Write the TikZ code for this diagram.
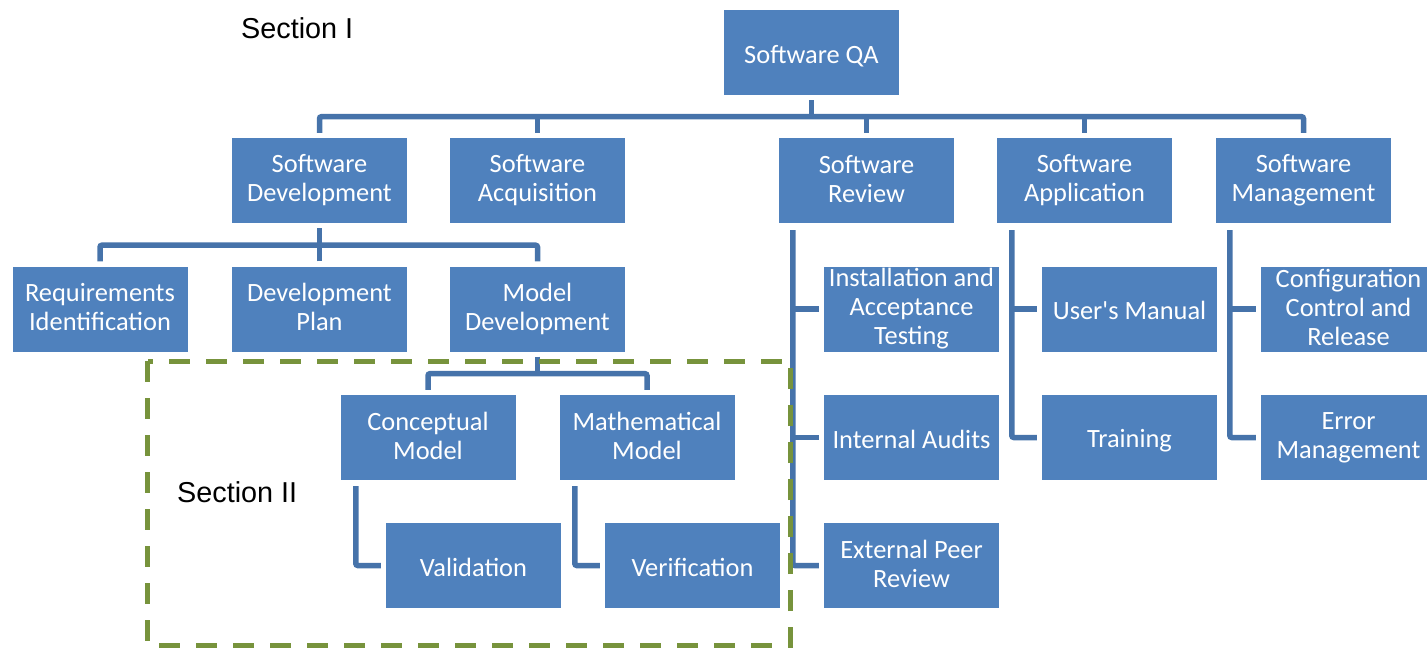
\documentclass[tikz,border=0pt]{standalone}
\usepackage{fontspec}
\setmainfont{Carlito}
\newfontfamily\arialfont{Liberation Sans}
\usetikzlibrary{calc}

\definecolor{qablue}{HTML}{4F81BD}
\definecolor{qaline}{HTML}{4673AA}
\definecolor{qagreen}{HTML}{77933C}

\newcommand\qatop{\rule{0pt}{25.3pt}}
\newcommand\qabot{\rule[-3.7pt]{0pt}{3.7pt}}

\tikzset{
  qabox/.style={fill=qablue,text=white,minimum width=175pt,minimum height=85pt,
    inner sep=0pt,align=center,font=\fontsize{26.4}{29}\selectfont,
    execute at begin node=\qatop,execute at end node=\qabot},
  qalink/.style={qaline,line width=5.5pt,rounded corners=2pt},
  secname/.style={anchor=west,inner sep=0pt,font=\arialfont\fontsize{28.8}{34}\selectfont}
}

\begin{document}
\begin{tikzpicture}[x=1pt,y=-1pt]
    \useasboundingbox (0,0) rectangle (1427,650) ;

    % boxes
    \node [qabox] (qa)    at (811.5,52.5)  {Software QA} ;
    \node [qabox] (sdev)  at (319.5,180.5) {Software\\Development} ;
    \node [qabox] (sacq)  at (537.5,180.5) {Software\\Acquisition} ;
    \node [qabox] (srev)  at (866.5,180.5) {Software\\Review} ;
    \node [qabox] (sapp)  at (1084.5,180.5) {Software\\Application} ;
    \node [qabox] (smgt)  at (1303.5,180.5) {Software\\Management} ;

    \node [qabox] (req)   at (100,309)   {Requirements\\Identification} ;
    \node [qabox] (dplan) at (319.5,309) {Development\\Plan} ;
    \node [qabox] (mdev)  at (537.5,309) {Model\\Development} ;
    \node [qabox] (cmod)  at (428,437.5) {Conceptual\\Model} ;
    \node [qabox] (mmod)  at (647,437.5) {Mathematical\\Model} ;
    \node [qabox] (valid) at (473.5,565.5) {Validation} ;
    \node [qabox] (verif) at (692.5,565.5) {Verification} ;

    \node [qabox] (inst)  at (911.5,309)   {Installation and\\Acceptance\\Testing} ;
    \node [qabox] (audit) at (911.5,437.5) {Internal Audits} ;
    \node [qabox] (peer)  at (911.5,565.5) {External Peer\\Review} ;
    \node [qabox] (umanu) at (1129.5,309)   {User\textquotesingle s Manual} ;
    \node [qabox] (train) at (1129.5,437.5) {Training} ;
    \node [qabox] (conf)  at (1348.5,309)   {Configuration\\Control and\\Release} ;
    \node [qabox] (error) at (1348.5,437.5) {Error\\Management} ;

    % tree lines
    \draw [qalink,shorten <=5pt] (qa.south) -- ++(0,21.5) coordinate (qabus) ;
    \draw [qalink,shorten <=5pt,shorten >=5pt] (sdev.north) |- (qabus) -| (smgt.north) ;
    \foreach \b in {sacq,srev,sapp}
      \draw [qalink,shorten <=5pt] (\b.north) -- (\b.north |- qabus) ;

    \draw [qalink,shorten <=5pt] (sdev.south) -- ++(0,22) coordinate (sdbus) ;
    \draw [qalink,shorten <=5pt,shorten >=5pt] (req.north) |- (sdbus) -| (mdev.north) ;
    \draw [qalink,shorten <=5pt] (dplan.north) -- (dplan.north |- sdbus) ;

    \draw [qalink,shorten <=5pt] (mdev.south) -- ++(0,22) coordinate (mdbus) ;
    \draw [qalink,shorten <=5pt,shorten >=5pt] (cmod.north) |- (mdbus) -| (mmod.north) ;

    \draw [qalink,shorten >=5pt] ($(cmod.south west)+(15.5,6)$) |- (valid.west) ;
    \draw [qalink,shorten >=5pt] ($(mmod.south west)+(15.5,6)$) |- (verif.west) ;

    % side lists
    \coordinate (srcol) at ($(srev.south west)+(14,7)$) ;
    \draw [qalink,shorten >=5pt] (srcol) |- (peer.west) ;
    \foreach \b in {inst,audit}
      \draw [qalink,shorten >=5pt] (srcol |- \b.west) -- (\b.west) ;

    \coordinate (sacol) at ($(sapp.south west)+(15,7)$) ;
    \draw [qalink,shorten >=5pt] (sacol) |- (train.west) ;
    \draw [qalink,shorten >=5pt] (sacol |- umanu.west) -- (umanu.west) ;

    \coordinate (smcol) at ($(smgt.south west)+(14,7)$) ;
    \draw [qalink,shorten >=5pt] (smcol) |- (error.west) ;
    \draw [qalink,shorten >=5pt] (smcol |- conf.west) -- (conf.west) ;

    % sections
    \draw [qagreen,line width=5pt,dash pattern=on 21pt off 16pt] (147.5,361) rectangle (790.5,645.5) ;
    \node [secname] (sec1) at (241,28) {Section I} ;
    \node [secname] (sec2) at (177,492) {Section II} ;
\end{tikzpicture}
\end{document}
